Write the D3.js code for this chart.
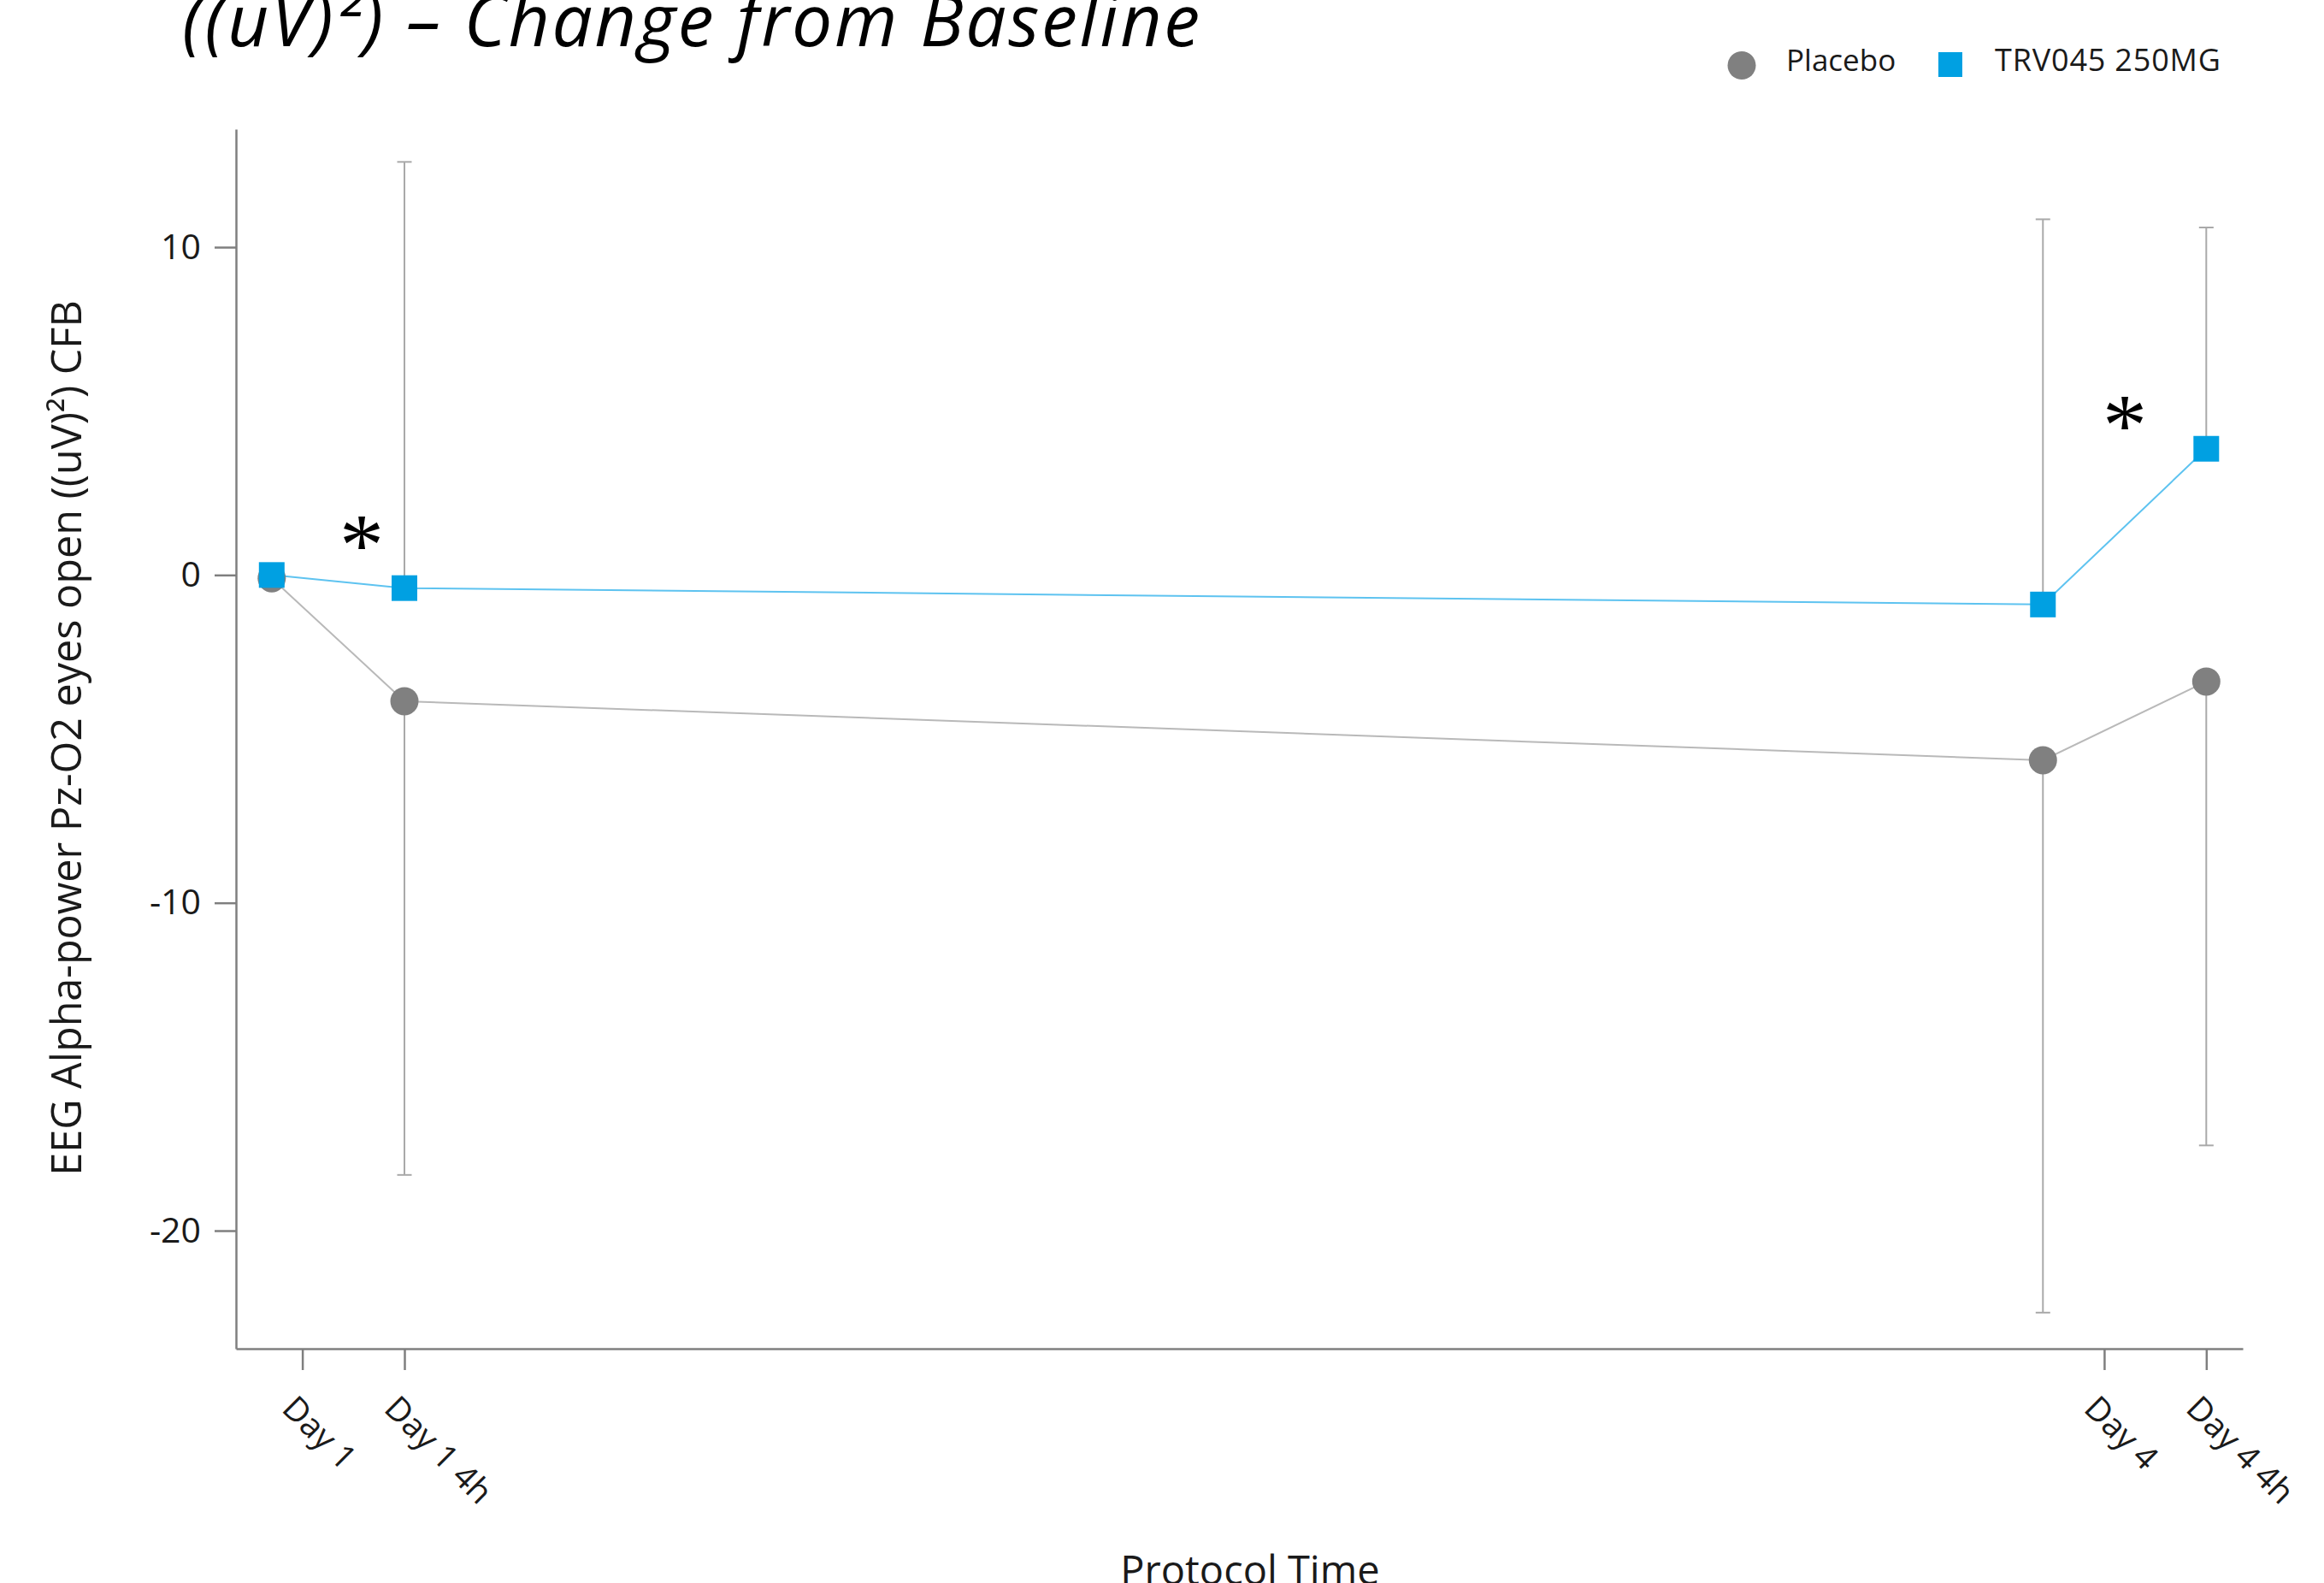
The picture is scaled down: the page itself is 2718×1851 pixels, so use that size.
<!DOCTYPE html>
<html>
<head>
<meta charset="utf-8">
<script src="https://cdn.jsdelivr.net/npm/d3@7"></script>
<style>
  html, body { margin: 0; padding: 0; background: #ffffff; }
  svg { display: block; }
  text { font-family: "Open Sans", "Noto Sans", sans-serif; fill: #1a1a1a; }
</style>
</head>
<body>
<svg id="chart" width="2718" height="1851"></svg>
<script>
// Time points (hours from first dose) and their labels
const categories = ["Day 1", "Day 1 4h", "Day 4", "Day 4 4h"];
const tickHours = [0, 4, 70.6, 74.6];
const pointHours = [-1.2, 4, 68.2, 74.6];

// Mean change from baseline and one-sided SD bars
const placeboMean = [-0.1, -3.85, -5.65, -3.25];
const placeboSD = [0, 14.45, 16.85, 14.15];
const trvMean = [0, -0.4, -0.9, 3.85];
const trvSD = [0, 13.0, 11.75, 6.75];

// Significance markers (index into time points)
const starIdx = [1, 3];

const yTicks = [-20, -10, 0, 10];
const seriesNames = ["Placebo", "TRV045 250MG"];

const W = 2718, H = 1851;
const plot = { left: 276, right: 2623, top: 151, bottom: 1577 };

const svg = d3.select("#chart");

const x = d3.scaleLinear().domain([-2.6, 76.03]).range([plot.left, plot.right]);
const y = d3.scaleLinear().domain([-23.6, 13.6]).range([plot.bottom, plot.top]);

const axisColor = "#7f7f7f";
const barColor = "#a9a9a9";
const grayMarker = "#808080";
const grayLine = "#b9b9b9";
const blueMarker = "#00a0e2";
const blueLine = "#5ec3f0";

// Title (top portion sits above the page edge)
svg.append("text")
  .attr("x", 213).attr("y", 54)
  .attr("textLength", 1190).attr("lengthAdjust", "spacing")
  .style("font-style", "italic")
  .style("font-size", "84px")
  .style("fill", "#000")
  .text("((uV)²) – Change from Baseline");

// Y axis
const yAxis = svg.append("g")
  .attr("transform", `translate(${plot.left},0)`)
  .call(d3.axisLeft(y).tickValues(yTicks).tickFormat(d => String(d))
    .tickSize(25).tickSizeOuter(0).tickPadding(16));
yAxis.selectAll("path, line").attr("stroke", axisColor).attr("stroke-width", 2.5);
yAxis.selectAll("text").style("font-size", "41px").style("fill", "#1a1a1a")
  .attr("dy", "0.32em").style("font-family", "\"Open Sans\", sans-serif");

// X axis
const xAxis = svg.append("g")
  .attr("transform", `translate(0,${plot.bottom})`)
  .call(d3.axisBottom(x).tickValues(tickHours).tickFormat((d, i) => categories[i])
    .tickSize(25).tickSizeOuter(0));
xAxis.selectAll("path, line").attr("stroke", axisColor).attr("stroke-width", 2.5);
xAxis.selectAll("text")
  .attr("x", 0).attr("y", 0).attr("dy", null)
  .attr("text-anchor", "start")
  .attr("transform", "translate(-26,72) rotate(45)")
  .style("font-size", "39px").style("fill", "#1a1a1a")
  .style("font-family", "\"Open Sans\", sans-serif");

// Axis titles
svg.append("text")
  .attr("transform", `translate(95,863) rotate(-90)`)
  .attr("text-anchor", "middle")
  .style("font-size", "48.5px")
  .text("EEG Alpha-power Pz-O2 eyes open ((uV)²) CFB");

svg.append("text")
  .attr("x", 1462).attr("y", 1853)
  .attr("text-anchor", "middle")
  .style("font-size", "47px")
  .text("Protocol Time");

const capHalf = 8.5;
const idx = d3.range(categories.length);

// Error bars: treatment upward, placebo downward
const bars = svg.append("g").attr("stroke", barColor).attr("stroke-width", 2);
idx.filter(i => trvSD[i] > 0).forEach(i => {
  const cx = x(pointHours[i]);
  bars.append("line").attr("x1", cx).attr("x2", cx)
    .attr("y1", y(trvMean[i])).attr("y2", y(trvMean[i] + trvSD[i]));
  bars.append("line").attr("x1", cx - capHalf).attr("x2", cx + capHalf)
    .attr("y1", y(trvMean[i] + trvSD[i])).attr("y2", y(trvMean[i] + trvSD[i]));
});
idx.filter(i => placeboSD[i] > 0).forEach(i => {
  const cx = x(pointHours[i]);
  bars.append("line").attr("x1", cx).attr("x2", cx)
    .attr("y1", y(placeboMean[i])).attr("y2", y(placeboMean[i] - placeboSD[i]));
  bars.append("line").attr("x1", cx - capHalf).attr("x2", cx + capHalf)
    .attr("y1", y(placeboMean[i] - placeboSD[i])).attr("y2", y(placeboMean[i] - placeboSD[i]));
});

// Connecting lines
const line = d3.line().x(d => x(d[0])).y(d => y(d[1]));
svg.append("path")
  .datum(idx.map(i => [pointHours[i], placeboMean[i]]))
  .attr("d", line).attr("fill", "none").attr("stroke", grayLine).attr("stroke-width", 2);
svg.append("path")
  .datum(idx.map(i => [pointHours[i], trvMean[i]]))
  .attr("d", line).attr("fill", "none").attr("stroke", blueLine).attr("stroke-width", 2);

// Markers
svg.append("g").selectAll("circle").data(idx).join("circle")
  .attr("cx", i => x(pointHours[i])).attr("cy", i => y(placeboMean[i]))
  .attr("r", 16.5).attr("fill", grayMarker);
const sq = 30;
svg.append("g").selectAll("rect").data(idx).join("rect")
  .attr("x", i => x(pointHours[i]) - sq / 2).attr("y", i => y(trvMean[i]) - sq / 2)
  .attr("width", sq).attr("height", sq).attr("fill", blueMarker);

// Significance asterisks
const starPos = [[423, 624], [2485, 484]];
starIdx.forEach((k, j) => {
  svg.append("text")
    .attr("x", starPos[j][0]).attr("y", starPos[j][1] + 48)
    .attr("text-anchor", "middle")
    .style("font-family", "\"Liberation Serif\", serif")
    .style("font-size", "104px")
    .style("fill", "#000")
    .text("*");
});

// Legend
const lg = svg.append("g");
lg.append("circle").attr("cx", 2037).attr("cy", 76.5).attr("r", 16.5).attr("fill", grayMarker);
lg.append("text").attr("x", 2089).attr("y", 83).style("font-size", "35px").text(seriesNames[0]);
lg.append("rect").attr("x", 2267).attr("y", 61).attr("width", 28).attr("height", 29).attr("fill", blueMarker);
lg.append("text").attr("x", 2333).attr("y", 83).style("font-size", "36px")
  .attr("textLength", 264).attr("lengthAdjust", "spacing").text(seriesNames[1]);
</script>
</body>
</html>
